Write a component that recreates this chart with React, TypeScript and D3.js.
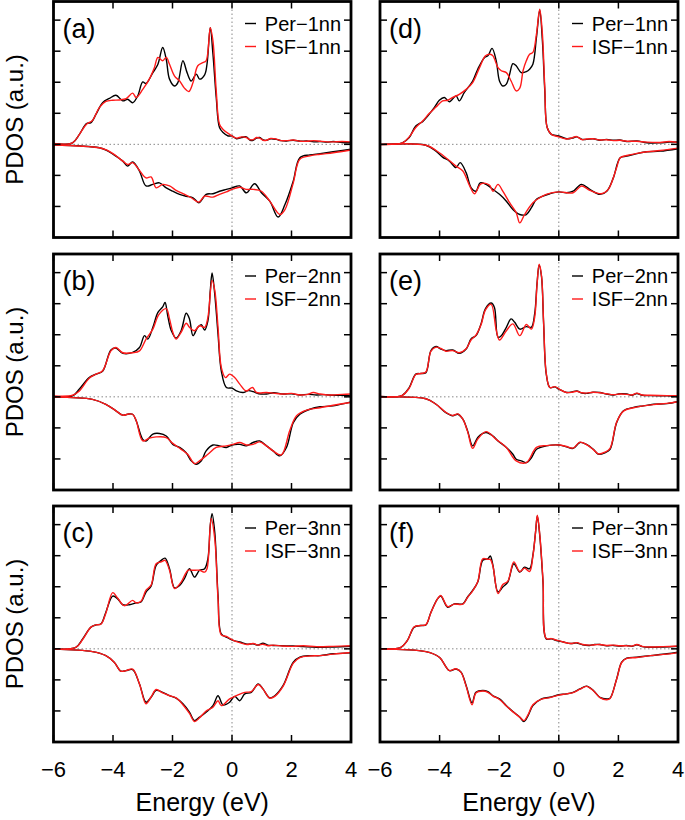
import React from 'react';
import * as d3 from 'd3';

type Pt = [number, number];

const ENERGY_TICKS = [-6, -4, -2, 0, 2, 4];
const PDOS_TICKS = [-2, -1, 0, 1, 2, 3, 4];
const ENERGY_DOMAIN: [number, number] = [-6, 4];
const PDOS_DOMAIN: [number, number] = [-3, 4.6];
const PANEL_LABELS = ['(a)', '(b)', '(c)', '(d)', '(e)', '(f)'];
const PER_NAMES = ['Per−1nn', 'Per−2nn', 'Per−3nn'];
const ISF_NAMES = ['ISF−1nn', 'ISF−2nn', 'ISF−3nn'];

// ---------- panel (a) ----------
const a_per_up: Pt[] = [[-6,0.02],[-5.36,0.05],[-5.13,0.32],[-4.89,0.67],[-4.74,0.70],[-4.57,0.97],[-4.35,1.34],[-4.12,1.48],[-3.90,1.58],[-3.67,1.40],[-3.51,1.45],[-3.34,1.34],[-3.17,1.56],[-3.00,2.01],[-2.89,1.96],[-2.66,2.31],[-2.49,2.58],[-2.33,3.12],[-2.21,2.74],[-2.10,2.10],[-1.93,1.88],[-1.82,1.99],[-1.65,2.69],[-1.51,2.31],[-1.37,2.04],[-1.20,2.26],[-1.09,2.10],[-0.92,2.24],[-0.84,2.58],[-0.73,3.76],[-0.64,2.90],[-0.53,1.51],[-0.42,0.54],[-0.30,0.38],[-0.13,0.27],[0,0.27],[0.15,0.18],[0.32,0.22],[0.48,0.24],[0.60,0.14],[0.71,0.13],[0.82,0.20],[0.93,0.22],[1.05,0.14],[1.16,0.13],[1.30,0.18],[1.49,0.16],[1.65,0.12],[1.83,0.11],[2.06,0.13],[2.30,0.10],[2.51,0.11],[2.75,0.08],[2.96,0.09],[3.20,0.07],[3.40,0.09],[3.70,0.06],[4.0,0.05]];
const a_isf_up: Pt[] = [[-6,0.03],[-5.36,0.05],[-5.13,0.32],[-4.89,0.65],[-4.69,0.77],[-4.46,1.18],[-4.24,1.38],[-4.01,1.42],[-3.79,1.43],[-3.56,1.47],[-3.34,1.65],[-3.22,1.51],[-3.00,1.77],[-2.78,2.10],[-2.61,2.47],[-2.49,2.80],[-2.33,2.69],[-2.21,2.80],[-2.10,2.58],[-1.93,2.20],[-1.76,2.04],[-1.60,1.81],[-1.45,1.70],[-1.31,1.99],[-1.15,2.53],[-0.98,2.63],[-0.87,2.69],[-0.73,3.76],[-0.64,3.33],[-0.53,1.72],[-0.42,0.65],[-0.30,0.48],[-0.08,0.32],[0.15,0.20],[0.32,0.24],[0.48,0.22],[0.60,0.15],[0.71,0.15],[0.82,0.22],[0.93,0.20],[1.05,0.13],[1.16,0.13],[1.30,0.19],[1.49,0.17],[1.65,0.12],[1.83,0.12],[2.06,0.14],[2.30,0.10],[2.51,0.10],[2.75,0.12],[2.96,0.10],[3.20,0.08],[3.40,0.08],[3.70,0.09],[4.0,0.08]];
const a_per_dn: Pt[] = [[-6,-0.02],[-4.46,-0.11],[-4.20,-0.20],[-4.0,-0.32],[-3.67,-0.54],[-3.51,-0.70],[-3.34,-0.57],[-3.11,-0.86],[-2.89,-1.34],[-2.66,-1.29],[-2.44,-1.24],[-2.21,-1.40],[-1.99,-1.51],[-1.76,-1.61],[-1.54,-1.67],[-1.31,-1.72],[-1.11,-1.88],[-0.87,-1.61],[-0.64,-1.59],[-0.42,-1.51],[-0.19,-1.45],[0,-1.40],[0.26,-1.34],[0.48,-1.56],[0.76,-1.27],[0.99,-1.56],[1.27,-1.83],[1.55,-2.34],[1.78,-1.94],[2.06,-1.18],[2.28,-0.43],[2.62,-0.34],[2.96,-0.30],[3.40,-0.24],[4.0,-0.16]];
const a_isf_dn: Pt[] = [[-6,-0.02],[-4.46,-0.11],[-4.20,-0.19],[-4.0,-0.30],[-3.67,-0.54],[-3.51,-0.65],[-3.34,-0.59],[-3.11,-0.84],[-2.89,-1.08],[-2.72,-1.05],[-2.55,-1.40],[-2.33,-1.29],[-2.10,-1.34],[-1.88,-1.48],[-1.65,-1.59],[-1.37,-1.72],[-1.11,-1.86],[-0.92,-1.67],[-0.64,-1.70],[-0.42,-1.61],[-0.19,-1.53],[0,-1.45],[0.26,-1.38],[0.48,-1.45],[0.71,-1.45],[0.99,-1.51],[1.27,-1.83],[1.61,-2.26],[1.78,-2.10],[2.06,-1.24],[2.28,-0.48],[2.62,-0.37],[2.96,-0.32],[3.40,-0.27],[4.0,-0.18]];

// ---------- panel (b) ----------
const b_per_up: Pt[] = [[-6,0.01],[-5.36,0.03],[-5.13,0.25],[-4.80,0.62],[-4.57,0.73],[-4.35,0.82],[-4.07,1.51],[-3.90,1.57],[-3.67,1.40],[-3.34,1.43],[-3.11,1.59],[-2.94,1.97],[-2.83,1.86],[-2.66,2.24],[-2.49,2.72],[-2.33,2.90],[-2.25,3.04],[-2.16,2.61],[-2.04,2.13],[-1.88,1.89],[-1.71,2.13],[-1.54,2.69],[-1.43,2.51],[-1.31,1.97],[-1.15,2.24],[-1.03,2.32],[-0.92,2.15],[-0.81,2.45],[-0.73,3.42],[-0.67,3.99],[-0.58,3.31],[-0.47,2.02],[-0.36,0.84],[-0.19,0.30],[0,0.28],[0.15,0.19],[0.37,0.14],[0.55,0.20],[0.71,0.17],[0.90,0.10],[1.16,0.09],[1.40,0.13],[1.72,0.09],[2.00,0.10],[2.28,0.06],[2.55,0.08],[2.84,0.06],[3.10,0.07],[3.40,0.05],[3.70,0.05],[4.0,0.03]];
const b_isf_up: Pt[] = [[-6,0.03],[-5.36,0.05],[-5.13,0.19],[-4.80,0.60],[-4.57,0.73],[-4.35,0.84],[-4.07,1.48],[-3.90,1.59],[-3.67,1.42],[-3.34,1.42],[-3.11,1.48],[-2.89,1.86],[-2.66,2.18],[-2.46,2.65],[-2.21,2.84],[-2.10,2.51],[-1.99,2.08],[-1.88,1.86],[-1.71,2.08],[-1.54,2.37],[-1.43,2.24],[-1.26,2.13],[-1.09,2.29],[-0.92,2.24],[-0.81,2.56],[-0.67,3.75],[-0.58,3.44],[-0.47,2.24],[-0.36,0.95],[-0.22,0.62],[-0.08,0.73],[0.09,0.62],[0.26,0.41],[0.48,0.19],[0.69,0.30],[0.82,0.14],[1.16,0.14],[1.40,0.12],[1.72,0.09],[2.00,0.11],[2.28,0.06],[2.55,0.08],[2.73,0.14],[2.96,0.09],[3.20,0.06],[3.40,0.06],[3.70,0.08],[4.0,0.09]];
const b_per_dn: Pt[] = [[-6,-0.01],[-4.69,-0.08],[-4.24,-0.24],[-3.90,-0.45],[-3.67,-0.59],[-3.51,-0.56],[-3.34,-0.56],[-3.22,-0.77],[-3.00,-1.37],[-2.89,-1.42],[-2.66,-1.20],[-2.44,-1.18],[-2.21,-1.26],[-1.99,-1.53],[-1.76,-1.63],[-1.54,-1.80],[-1.37,-2.06],[-1.20,-2.17],[-1.03,-2.06],[-0.87,-1.74],[-0.64,-1.55],[-0.42,-1.58],[-0.19,-1.63],[0,-1.55],[0.26,-1.53],[0.48,-1.58],[0.71,-1.47],[0.93,-1.42],[1.16,-1.58],[1.38,-1.74],[1.61,-1.90],[1.83,-1.63],[2.06,-0.83],[2.28,-0.56],[2.62,-0.40],[2.96,-0.32],[3.40,-0.29],[4.0,-0.16]];
const b_isf_dn: Pt[] = [[-6,-0.01],[-4.69,-0.08],[-4.24,-0.24],[-3.90,-0.45],[-3.67,-0.59],[-3.51,-0.56],[-3.34,-0.56],[-3.22,-0.77],[-3.00,-1.42],[-2.78,-1.33],[-2.55,-1.29],[-2.21,-1.31],[-1.99,-1.50],[-1.71,-1.69],[-1.49,-1.85],[-1.26,-2.15],[-1.09,-2.06],[-0.81,-1.85],[-0.53,-1.63],[-0.19,-1.58],[0.03,-1.53],[0.26,-1.47],[0.48,-1.55],[0.71,-1.53],[0.93,-1.45],[1.16,-1.58],[1.38,-1.74],[1.66,-1.87],[1.94,-1.09],[2.17,-0.61],[2.51,-0.43],[2.96,-0.35],[3.40,-0.27],[4.0,-0.18]];

// ---------- panel (c) ----------
const c_per_up: Pt[] = [[-6,0],[-5.25,0.05],[-5.02,0.32],[-4.74,0.70],[-4.57,0.77],[-4.40,0.81],[-4.24,1.18],[-4.01,1.70],[-3.84,1.61],[-3.67,1.42],[-3.45,1.42],[-3.22,1.48],[-3.06,1.51],[-2.89,1.83],[-2.72,2.02],[-2.55,2.69],[-2.38,2.85],[-2.25,2.92],[-2.10,2.58],[-1.93,1.96],[-1.76,2.04],[-1.60,2.26],[-1.43,2.58],[-1.26,2.31],[-1.09,2.53],[-0.92,2.58],[-0.81,2.90],[-0.73,3.98],[-0.67,4.35],[-0.58,3.76],[-0.47,1.72],[-0.36,0.48],[-0.19,0.38],[0.03,0.27],[0.26,0.22],[0.50,0.15],[0.71,0.16],[0.88,0.12],[1.04,0.18],[1.20,0.12],[1.38,0.11],[1.70,0.10],[2.06,0.09],[2.40,0.07],[2.84,0.05],[3.40,0.06],[4.0,0.08]];
const c_isf_up: Pt[] = [[-6,0],[-5.25,0.05],[-5.02,0.30],[-4.74,0.70],[-4.57,0.77],[-4.40,0.80],[-4.24,1.15],[-4.01,1.81],[-3.84,1.63],[-3.62,1.39],[-3.34,1.56],[-3.22,1.48],[-3.06,1.53],[-2.89,1.89],[-2.72,2.05],[-2.55,2.74],[-2.38,2.80],[-2.25,2.85],[-2.10,2.53],[-1.93,1.94],[-1.71,2.15],[-1.48,2.53],[-1.31,2.53],[-1.09,2.53],[-0.92,2.47],[-0.84,2.58],[-0.70,4.19],[-0.58,3.55],[-0.47,1.61],[-0.36,0.45],[-0.19,0.40],[0.03,0.28],[0.26,0.20],[0.50,0.14],[0.71,0.17],[0.88,0.12],[1.04,0.15],[1.20,0.10],[1.38,0.12],[1.70,0.09],[2.06,0.08],[2.40,0.10],[2.84,0.07],[3.40,0.08],[4.0,0.10]];
const c_per_dn: Pt[] = [[-6,-0.01],[-4.69,-0.09],[-4.24,-0.22],[-3.96,-0.43],[-3.73,-0.72],[-3.56,-0.70],[-3.34,-0.67],[-3.11,-1.13],[-2.89,-1.72],[-2.72,-1.56],[-2.55,-1.34],[-2.33,-1.40],[-2.10,-1.51],[-1.88,-1.59],[-1.65,-1.77],[-1.43,-2.04],[-1.26,-2.31],[-1.09,-2.20],[-0.87,-2.04],[-0.64,-1.83],[-0.47,-1.51],[-0.30,-1.81],[-0.08,-1.72],[0.09,-1.53],[0.26,-1.67],[0.43,-1.45],[0.65,-1.40],[0.88,-1.13],[1.04,-1.29],[1.27,-1.58],[1.44,-1.51],[1.72,-1.18],[2.06,-0.43],[2.28,-0.27],[2.62,-0.22],[2.96,-0.22],[3.40,-0.16],[4.0,-0.13]];
const c_isf_dn: Pt[] = [[-6,-0.01],[-4.69,-0.09],[-4.24,-0.22],[-3.96,-0.43],[-3.73,-0.72],[-3.56,-0.70],[-3.34,-0.65],[-3.11,-1.13],[-2.89,-1.77],[-2.72,-1.55],[-2.55,-1.31],[-2.33,-1.42],[-2.10,-1.51],[-1.88,-1.58],[-1.65,-1.80],[-1.43,-2.08],[-1.26,-2.34],[-1.09,-2.22],[-0.87,-2.00],[-0.64,-1.88],[-0.47,-1.67],[-0.36,-1.83],[-0.08,-1.61],[0.15,-1.51],[0.43,-1.40],[0.65,-1.38],[0.88,-1.15],[1.04,-1.29],[1.27,-1.59],[1.44,-1.53],[1.72,-1.20],[2.06,-0.46],[2.28,-0.28],[2.62,-0.23],[2.96,-0.22],[3.40,-0.17],[4.0,-0.12]];

// ---------- panel (d) ----------
const d_per_up: Pt[] = [[-6,0],[-5.25,0.05],[-5.02,0.22],[-4.80,0.59],[-4.57,0.73],[-4.40,0.91],[-4.18,1.18],[-4.01,1.42],[-3.84,1.51],[-3.67,1.37],[-3.45,1.56],[-3.34,1.40],[-3.17,1.67],[-2.89,2.04],[-2.72,2.42],[-2.49,2.80],[-2.38,2.85],[-2.24,3.09],[-2.10,2.69],[-1.99,2.04],[-1.88,1.88],[-1.76,1.94],[-1.65,2.26],[-1.54,2.60],[-1.43,2.53],[-1.26,2.31],[-1.09,2.34],[-0.98,2.42],[-0.87,2.58],[-0.75,3.44],[-0.64,4.32],[-0.55,3.33],[-0.47,1.72],[-0.39,0.54],[-0.25,0.32],[0,0.27],[0.26,0.18],[0.45,0.20],[0.60,0.24],[0.78,0.16],[0.93,0.16],[1.15,0.18],[1.38,0.13],[1.60,0.16],[1.83,0.13],[2.05,0.14],[2.28,0.09],[2.62,0.11],[2.96,0.05],[3.40,0.05],[3.70,0.07],[4.0,0.08]];
const d_isf_up: Pt[] = [[-6,0],[-5.25,0.05],[-5.02,0.24],[-4.80,0.54],[-4.57,0.75],[-4.35,0.99],[-4.12,1.20],[-3.90,1.40],[-3.73,1.42],[-3.56,1.51],[-3.34,1.61],[-3.11,1.77],[-2.89,1.99],[-2.66,2.47],[-2.46,2.85],[-2.30,2.90],[-2.21,2.85],[-2.04,2.47],[-1.93,2.37],[-1.76,2.31],[-1.60,2.04],[-1.43,1.72],[-1.31,1.81],[-1.20,2.37],[-1.09,2.69],[-0.98,2.90],[-0.87,2.96],[-0.75,3.55],[-0.64,4.35],[-0.55,3.55],[-0.47,1.83],[-0.39,0.54],[-0.25,0.32],[0,0.24],[0.26,0.17],[0.45,0.21],[0.60,0.25],[0.78,0.15],[0.93,0.17],[1.15,0.18],[1.38,0.14],[1.60,0.15],[1.83,0.12],[2.05,0.13],[2.28,0.10],[2.62,0.10],[2.96,0.07],[3.40,0.06],[3.70,0.09],[4.0,0.06]];
const d_per_dn: Pt[] = [[-6,-0.01],[-4.46,-0.03],[-4.12,-0.22],[-3.90,-0.41],[-3.67,-0.54],[-3.45,-0.75],[-3.31,-0.59],[-3.11,-0.91],[-2.94,-1.40],[-2.78,-1.51],[-2.64,-1.24],[-2.44,-1.29],[-2.21,-1.45],[-1.99,-1.61],[-1.76,-1.83],[-1.54,-2.10],[-1.31,-2.26],[-1.09,-2.26],[-0.92,-2.04],[-0.75,-1.77],[-0.53,-1.67],[-0.30,-1.59],[0,-1.53],[0.26,-1.56],[0.48,-1.51],[0.76,-1.29],[1.04,-1.45],[1.38,-1.61],[1.61,-1.51],[1.83,-1.08],[2.06,-0.43],[2.28,-0.38],[2.62,-0.30],[2.96,-0.24],[3.40,-0.22],[4.0,-0.14]];
const d_isf_dn: Pt[] = [[-6,-0.01],[-4.46,-0.03],[-4.01,-0.27],[-3.79,-0.43],[-3.45,-0.70],[-3.22,-0.86],[-2.99,-1.34],[-2.83,-1.59],[-2.61,-1.27],[-2.33,-1.31],[-2.21,-1.51],[-2.04,-1.29],[-1.88,-1.51],[-1.65,-1.88],[-1.43,-2.20],[-1.31,-2.53],[-1.15,-2.26],[-0.87,-1.88],[-0.64,-1.72],[-0.42,-1.61],[0,-1.53],[0.48,-1.56],[0.76,-1.34],[1.04,-1.48],[1.43,-1.59],[1.66,-1.45],[1.94,-0.75],[2.06,-0.43],[2.28,-0.36],[2.62,-0.29],[2.96,-0.24],[3.40,-0.20],[4.0,-0.12]];

// ---------- panel (e) ----------
const e_per_up: Pt[] = [[-6,0.01],[-5.25,0.05],[-5.02,0.30],[-4.80,0.73],[-4.63,0.75],[-4.46,0.78],[-4.29,1.49],[-4.12,1.62],[-3.96,1.54],[-3.79,1.49],[-3.56,1.51],[-3.34,1.40],[-3.11,1.54],[-2.94,1.87],[-2.78,1.97],[-2.61,2.35],[-2.46,2.84],[-2.27,3.02],[-2.16,2.88],[-2.04,1.92],[-1.93,1.97],[-1.76,2.24],[-1.60,2.51],[-1.48,2.40],[-1.31,2.18],[-1.09,2.26],[-0.92,2.24],[-0.81,2.67],[-0.73,3.65],[-0.66,4.24],[-0.58,3.87],[-0.51,2.37],[-0.42,0.73],[-0.30,0.30],[-0.13,0.32],[0,0.25],[0.26,0.14],[0.45,0.16],[0.60,0.19],[0.78,0.12],[0.93,0.11],[1.15,0.15],[1.38,0.14],[1.60,0.09],[1.83,0.06],[2.05,0.10],[2.28,0.09],[2.45,0.05],[2.62,0.11],[2.80,0.05],[3.07,0.04],[3.63,0.03],[4.0,0.03]];
const e_isf_up: Pt[] = [[-6,0.01],[-5.25,0.05],[-5.02,0.28],[-4.80,0.72],[-4.63,0.75],[-4.46,0.80],[-4.29,1.47],[-4.12,1.60],[-3.96,1.56],[-3.79,1.47],[-3.56,1.49],[-3.34,1.42],[-3.11,1.55],[-2.94,1.84],[-2.78,1.99],[-2.61,2.32],[-2.46,2.80],[-2.27,2.98],[-2.10,2.15],[-1.99,1.83],[-1.76,2.13],[-1.54,2.35],[-1.31,1.97],[-1.09,2.33],[-0.92,2.18],[-0.81,2.56],[-0.73,3.62],[-0.66,4.27],[-0.58,3.90],[-0.51,2.40],[-0.42,0.75],[-0.30,0.30],[-0.13,0.33],[0,0.26],[0.26,0.14],[0.45,0.15],[0.60,0.18],[0.78,0.13],[0.93,0.12],[1.15,0.15],[1.38,0.13],[1.60,0.10],[1.83,0.07],[2.05,0.09],[2.28,0.08],[2.45,0.06],[2.62,0.12],[2.80,0.06],[3.07,0.05],[3.63,0.04],[4.0,0.04]];
const e_per_dn: Pt[] = [[-6,-0.01],[-4.46,-0.06],[-4.12,-0.24],[-3.79,-0.51],[-3.56,-0.61],[-3.39,-0.56],[-3.22,-0.72],[-3.06,-1.10],[-2.89,-1.58],[-2.72,-1.31],[-2.55,-1.18],[-2.44,-1.15],[-2.21,-1.26],[-2.04,-1.42],[-1.76,-1.63],[-1.54,-1.85],[-1.43,-2.01],[-1.26,-2.06],[-1.09,-2.12],[-0.92,-1.96],[-0.75,-1.69],[-0.42,-1.58],[0,-1.55],[0.26,-1.61],[0.48,-1.66],[0.71,-1.47],[0.93,-1.53],[1.16,-1.69],[1.33,-1.85],[1.55,-1.80],[1.72,-1.69],[1.94,-0.83],[2.17,-0.45],[2.51,-0.34],[2.84,-0.29],[3.18,-0.24],[3.63,-0.22],[4.0,-0.15]];
const e_isf_dn: Pt[] = [[-6,-0.01],[-4.46,-0.06],[-4.12,-0.24],[-3.79,-0.50],[-3.56,-0.60],[-3.39,-0.55],[-3.22,-0.72],[-3.06,-1.12],[-2.89,-1.66],[-2.72,-1.36],[-2.44,-1.12],[-2.10,-1.37],[-1.76,-1.63],[-1.43,-2.06],[-1.09,-2.12],[-0.75,-1.63],[-0.42,-1.57],[0,-1.55],[0.26,-1.60],[0.48,-1.65],[0.71,-1.46],[0.93,-1.54],[1.16,-1.70],[1.33,-1.84],[1.55,-1.78],[1.72,-1.66],[1.94,-0.82],[2.17,-0.46],[2.51,-0.35],[2.84,-0.29],[3.18,-0.25],[3.63,-0.21],[4.0,-0.16]];

// ---------- panel (f) ----------
const f_per_up: Pt[] = [[-6,0],[-5.30,0.05],[-5.08,0.27],[-4.85,0.70],[-4.63,0.75],[-4.46,0.77],[-4.29,1.18],[-4.07,1.61],[-3.96,1.70],[-3.73,1.34],[-3.51,1.45],[-3.22,1.45],[-3.06,1.67],[-2.89,1.88],[-2.72,2.15],[-2.55,2.85],[-2.38,2.90],[-2.30,2.99],[-2.21,2.69],[-2.04,1.83],[-1.88,1.99],[-1.71,2.15],[-1.51,2.74],[-1.31,2.47],[-1.15,2.63],[-0.98,2.58],[-0.87,3.01],[-0.78,3.76],[-0.72,4.28],[-0.64,3.66],[-0.53,2.15],[-0.42,0.32],[-0.25,0.32],[-0.08,0.27],[0.15,0.22],[0.40,0.17],[0.60,0.19],[0.80,0.13],[1.04,0.11],[1.20,0.14],[1.38,0.14],[1.60,0.10],[1.83,0.11],[2.05,0.09],[2.28,0.11],[2.45,0.08],[2.62,0.13],[2.80,0.07],[3.07,0.05],[3.50,0.06],[4.0,0.08]];
const f_isf_up: Pt[] = [[-6,0],[-5.30,0.05],[-5.08,0.27],[-4.85,0.71],[-4.63,0.75],[-4.46,0.78],[-4.29,1.17],[-4.07,1.61],[-3.96,1.72],[-3.73,1.36],[-3.51,1.44],[-3.22,1.44],[-3.06,1.66],[-2.89,1.87],[-2.72,2.16],[-2.55,2.90],[-2.38,2.88],[-2.30,2.88],[-2.21,2.66],[-2.04,1.78],[-1.88,2.07],[-1.71,2.18],[-1.51,2.80],[-1.31,2.49],[-1.15,2.60],[-0.98,2.49],[-0.87,2.98],[-0.78,3.76],[-0.72,4.30],[-0.64,3.70],[-0.53,2.20],[-0.42,0.33],[-0.25,0.33],[-0.08,0.28],[0.15,0.22],[0.40,0.17],[0.60,0.20],[0.80,0.14],[1.04,0.12],[1.20,0.13],[1.38,0.14],[1.60,0.11],[1.83,0.12],[2.05,0.10],[2.28,0.10],[2.45,0.09],[2.62,0.14],[2.80,0.08],[3.07,0.06],[3.50,0.07],[4.0,0.09]];
const f_per_dn: Pt[] = [[-6,-0.01],[-4.46,-0.09],[-4.01,-0.27],[-3.67,-0.70],[-3.45,-0.65],[-3.28,-0.75],[-3.11,-1.18],[-2.91,-1.74],[-2.78,-1.40],[-2.55,-1.34],[-2.38,-1.38],[-2.21,-1.51],[-1.99,-1.61],[-1.76,-1.83],[-1.54,-2.02],[-1.31,-2.20],[-1.17,-2.34],[-1.03,-2.15],[-0.87,-1.83],[-0.58,-1.61],[-0.30,-1.56],[0,-1.48],[0.26,-1.45],[0.48,-1.40],[0.71,-1.29],[0.93,-1.20],[1.16,-1.34],[1.38,-1.56],[1.61,-1.61],[1.72,-1.59],[1.94,-0.97],[2.11,-0.43],[2.28,-0.30],[2.62,-0.27],[3.07,-0.22],[3.63,-0.16],[4.0,-0.11]];
const f_isf_dn: Pt[] = [[-6,-0.01],[-4.46,-0.09],[-4.01,-0.27],[-3.67,-0.70],[-3.45,-0.64],[-3.28,-0.76],[-3.11,-1.20],[-2.91,-1.80],[-2.78,-1.42],[-2.55,-1.36],[-2.38,-1.40],[-2.21,-1.52],[-1.99,-1.63],[-1.76,-1.84],[-1.54,-2.03],[-1.31,-2.20],[-1.17,-2.31],[-1.03,-2.12],[-0.87,-1.80],[-0.58,-1.62],[-0.30,-1.57],[0,-1.49],[0.26,-1.45],[0.48,-1.41],[0.71,-1.30],[0.93,-1.21],[1.16,-1.35],[1.38,-1.57],[1.61,-1.64],[1.72,-1.60],[1.94,-0.98],[2.11,-0.44],[2.28,-0.31],[2.62,-0.28],[3.07,-0.22],[3.63,-0.17],[4.0,-0.12]];

const PANEL_SERIES = [
  { per: [a_per_up, a_per_dn], isf: [a_isf_up, a_isf_dn] },
  { per: [b_per_up, b_per_dn], isf: [b_isf_up, b_isf_dn] },
  { per: [c_per_up, c_per_dn], isf: [c_isf_up, c_isf_dn] },
  { per: [d_per_up, d_per_dn], isf: [d_isf_up, d_isf_dn] },
  { per: [e_per_up, e_per_dn], isf: [e_isf_up, e_isf_dn] },
  { per: [f_per_up, f_per_dn], isf: [f_isf_up, f_isf_dn] },
];

// layout
const W = 685;
const H = 820;
const COLS = [
  { x0: 53.5, x1: 351 },
  { x0: 380, x1: 678 },
];
const ROWS = [
  { y0: 1.5, y1: 237.5 },
  { y0: 254, y1: 490 },
  { y0: 506, y1: 742 },
];
const FONT = '"Liberation Sans", Arial, Helvetica, sans-serif';
const RED = '#ff1a1a';

const fmt = (v: number) => (v < 0 ? '\u2212' + Math.abs(v) : String(v));

function Panel({ idx }: { idx: number }) {
  const col = Math.floor(idx / 3);
  const row = idx % 3;
  const { x0, x1 } = COLS[col];
  const { y0, y1 } = ROWS[row];
  const x = d3.scaleLinear().domain(ENERGY_DOMAIN).range([x0, x1]);
  const y = d3.scaleLinear().domain(PDOS_DOMAIN).range([y1, y0]);
  const line = d3
    .line<Pt>()
    .x((d) => x(d[0]))
    .y((d) => y(d[1]))
    .curve(d3.curveCatmullRom.alpha(0.5));
  const s = PANEL_SERIES[idx];
  const tickLen = 7;
  const clipId = `clip-${idx}`;
  return (
    <g>
      <defs>
        <clipPath id={clipId}>
          <rect x={x0} y={y0} width={x1 - x0} height={y1 - y0} />
        </clipPath>
      </defs>
      <line x1={x0} x2={x1} y1={y(0)} y2={y(0)} stroke="#888" strokeWidth={1} strokeDasharray="1.5 2.5" />
      <line x1={x(0)} x2={x(0)} y1={y0} y2={y1} stroke="#888" strokeWidth={1} strokeDasharray="1.5 2.5" />
      <g clipPath={`url(#${clipId})`} fill="none" strokeLinejoin="round">
        {s.per.map((d, i) => (
          <path key={'p' + i} d={line(d) || ''} stroke="#000" strokeWidth={1.4} />
        ))}
        {s.isf.map((d, i) => (
          <path key={'i' + i} d={line(d) || ''} stroke={RED} strokeWidth={1.4} />
        ))}
      </g>
      {ENERGY_TICKS.map((t) => (
        <g key={'xt' + t}>
          <line x1={x(t)} x2={x(t)} y1={y1} y2={y1 - tickLen} stroke="#000" strokeWidth={1.5} />
          <line x1={x(t)} x2={x(t)} y1={y0} y2={y0 + tickLen} stroke="#000" strokeWidth={1.5} />
        </g>
      ))}
      {PDOS_TICKS.map((t) => (
        <g key={'yt' + t}>
          <line x1={x0} x2={x0 + tickLen} y1={y(t)} y2={y(t)} stroke="#000" strokeWidth={1.5} />
          <line x1={x1} x2={x1 - tickLen} y1={y(t)} y2={y(t)} stroke="#000" strokeWidth={1.5} />
        </g>
      ))}
      <text x={x0 + 9} y={y0 + 36} fontSize={27} fontFamily={FONT}>
        {PANEL_LABELS[idx]}
      </text>
      <line x1={x1 - 106} x2={x1 - 95} y1={y0 + 22} y2={y0 + 22} stroke="#000" strokeWidth={1.4} />
      <text x={x1 - 10} y={y0 + 29} fontSize={20} fontFamily={FONT} textAnchor="end">
        {PER_NAMES[row]}
      </text>
      <line x1={x1 - 106} x2={x1 - 95} y1={y0 + 45} y2={y0 + 45} stroke={RED} strokeWidth={1.4} />
      <text x={x1 - 10} y={y0 + 52} fontSize={20} fontFamily={FONT} textAnchor="end">
        {ISF_NAMES[row]}
      </text>
      <rect x={x0} y={y0} width={x1 - x0} height={y1 - y0} fill="none" stroke="#000" strokeWidth={2.8} />
      {col === 0 && (
        <text
          transform={`translate(23, ${(y0 + y1) / 2}) rotate(-90)`}
          textAnchor="middle"
          fontSize={24}
          fontFamily={FONT}
        >
          PDOS (a.u.)
        </text>
      )}
      {row === 2 && (
        <g>
          {ENERGY_TICKS.map((t) => (
            <text key={'xl' + t} x={x(t)} y={777} textAnchor="middle" fontSize={22} fontFamily={FONT}>
              {fmt(t)}
            </text>
          ))}
          <text x={(x0 + x1) / 2} y={811} textAnchor="middle" fontSize={25} fontFamily={FONT}>
            Energy (eV)
          </text>
        </g>
      )}
    </g>
  );
}

export default function App() {
  return (
    <svg width={W} height={H} style={{ position: 'absolute', left: 0, top: 0, background: '#fff' }}>
      <rect x={0} y={0} width={W} height={H} fill="#fff" />
      {PANEL_SERIES.map((_, i) => (
        <Panel key={i} idx={i} />
      ))}
    </svg>
  );
}
